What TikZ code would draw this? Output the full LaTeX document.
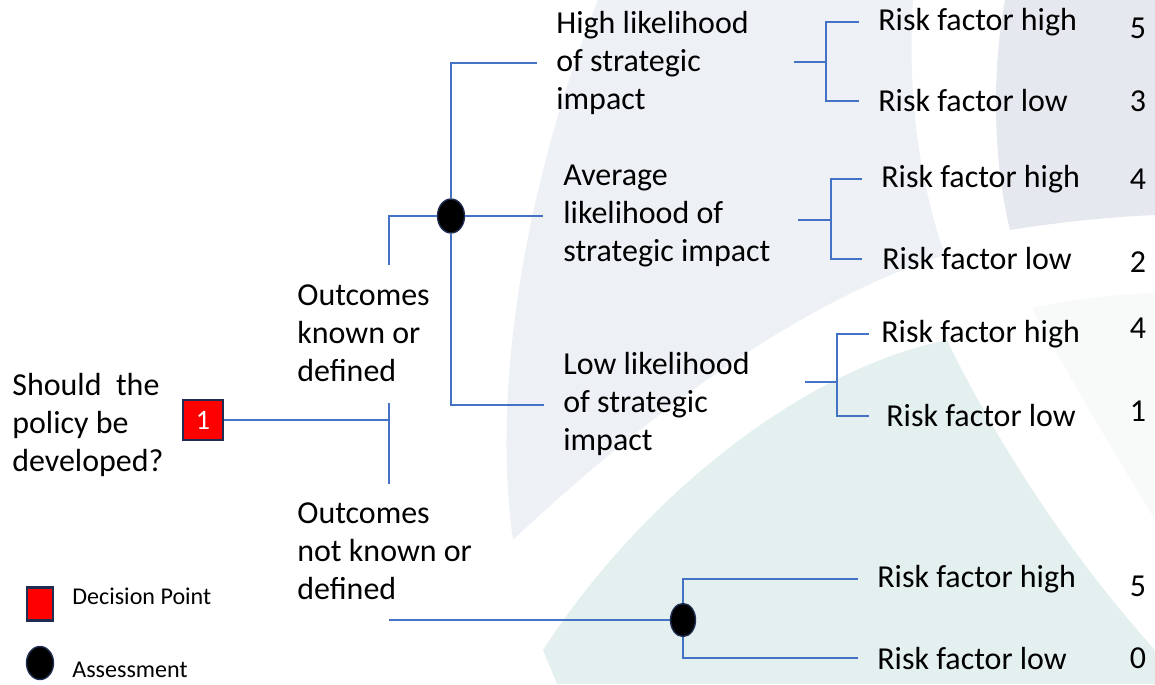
\documentclass[tikz,border=0pt]{standalone}
\usepackage{fontspec}
\setmainfont{Carlito}
\usepackage{tikz}
\usetikzlibrary{shapes.geometric}

\definecolor{treeblue}{RGB}{68,114,196}
\definecolor{boxnavy}{RGB}{31,45,80}
\definecolor{bggrey}{RGB}{237,241,245}
\definecolor{bgslate}{RGB}{229,232,238}
\definecolor{bgteal}{RGB}{227,240,239}
\definecolor{bgmint}{RGB}{247,250,249}

\begin{document}
\begin{tikzpicture}[x=0.02cm, y=-0.02cm,
    branch/.style={draw=treeblue, line width=0.9pt},
    txt/.style={anchor=west, align=left, inner sep=0pt, font=\fontsize{18.2}{21.5}\selectfont},
    keytxt/.style={anchor=west, inner sep=0pt, font=\fontsize{13.7}{15}\selectfont},
    score/.style={inner sep=0pt, font=\fontsize{18.2}{21.5}\selectfont},
    decision/.style={draw=boxnavy, line width=1.3pt, fill=red, text=white, inner sep=0pt,
        minimum width=0.8cm, minimum height=0.8cm, font=\fontsize{16}{18}\selectfont},
    assess/.style={ellipse, draw=boxnavy, line width=0.8pt, fill=black, inner sep=0pt,
        minimum width=0.54cm, minimum height=0.68cm}]
  \useasboundingbox (0,0) rectangle (1155,684);

  % background swooshes
  \fill[bggrey] (598,0) .. controls (530,170) and (490,380) .. (513,540)
     .. controls (640,420) and (800,300) .. (945,255)
     .. controls (915,170) and (908,80) .. (913,0) -- cycle;
  \fill[bgslate] (1005,0) .. controls (990,80) and (995,170) .. (1010,230)
     .. controls (1060,222) and (1110,217) .. (1155,215) -- (1155,0) -- cycle;
  \fill[bgteal] (557,684) -- (543,650) .. controls (640,500) and (800,370) .. (947,340)
     .. controls (985,420) and (1060,545) .. (1155,650) -- (1155,684) -- cycle;
  \fill[bgmint] (1032,308) .. controls (1080,298) and (1120,294) .. (1155,293)
     -- (1155,520) .. controls (1100,430) and (1060,360) .. cycle;

  % decision and first split
  \node[txt] (question) at (12,425) {Should\ \ the\\policy be\\developed?};
  \node[decision] (dec) at (203,420) {1};
  \node[txt] (known) at (297,333) {Outcomes\\known or\\defined};
  \node[txt] (unknown) at (297,551) {Outcomes\\not known or\\defined};

  \coordinate (fork) at (389,420);
  \coordinate (forkup) at (389,403);
  \coordinate (forkdown) at (389,484);
  \draw[branch] (dec) -- (fork);
  \draw[branch] (forkup) -- (forkdown);

  % known outcomes
  \node[assess] (chance1) at (451,216) {};
  \node[txt] (high) at (556,63) {High likelihood\\of strategic\\impact};
  \node[txt] (avg) at (563,216) {Average\\likelihood of\\strategic impact};
  \node[txt] (low) at (563,404) {Low likelihood\\of strategic\\impact};

  \coordinate (knownstub) at (389,265);
  \coordinate (highend) at (537,63);
  \coordinate (avgend) at (543,216);
  \coordinate (lowend) at (544,405);
  \draw[branch] (knownstub) |- (chance1);
  \draw[branch] (chance1) |- (highend);
  \draw[branch] (chance1) -- (avgend);
  \draw[branch] (chance1) |- (lowend);

  \node[txt] (rh1) at (878,22) {Risk factor high};
  \node[txt] (rl1) at (878,101) {Risk factor low};
  \node[txt] (rh2) at (881,179) {Risk factor high};
  \node[txt] (rl2) at (882,259) {Risk factor low};
  \node[txt] (rh3) at (881,334) {Risk factor high};
  \node[txt] (rl3) at (886,416) {Risk factor low};

  \coordinate (stub1) at (794,62);
  \coordinate (fork1) at (826,62);
  \draw[branch] (stub1) -- (fork1);
  \draw[branch] ([xshift=-0.38cm]rh1.west) -| (fork1) |- ([xshift=-0.38cm]rl1.west);

  \coordinate (stub2) at (798,220);
  \coordinate (fork2) at (831,220);
  \draw[branch, line width=1.3pt] (stub2) -- (fork2);
  \draw[branch] ([xshift=-0.38cm]rh2.west) -| (fork2) |- ([xshift=-0.4cm]rl2.west);

  \coordinate (stub3) at (805,382);
  \coordinate (fork3) at (837,382);
  \draw[branch] (stub3) -- (fork3);
  \draw[branch] ([xshift=-0.24cm]rh3.west) -| (fork3) |- ([xshift=-0.34cm]rl3.west);

  % unknown outcomes
  \node[assess, minimum width=0.5cm, minimum height=0.66cm] (chance2) at (683,620) {};
  \node[txt] (rh4) at (877,579) {Risk factor high};
  \node[txt] (rl4) at (877,658) {Risk factor low};

  \coordinate (unknownstub) at (389,620);
  \draw[branch] (unknownstub) -- (chance2);
  \draw[branch] (chance2) |- ([xshift=-0.38cm]rh4.west);
  \draw[branch] (chance2) |- ([xshift=-0.38cm]rl4.west);

  % scores
  \node[score] (s1) at (1138,28) {5};
  \node[score] (s2) at (1138,101) {3};
  \node[score] (s3) at (1138,179) {4};
  \node[score] (s4) at (1138,262) {2};
  \node[score] (s5) at (1138,328) {4};
  \node[score] (s6) at (1138,411) {1};
  \node[score] (s7) at (1138,586) {5};
  \node[score] (s8) at (1138,658) {0};

  % key
  \node[decision, minimum width=0.52cm, minimum height=0.66cm] (keydec) at (40,604) {};
  \node[keytxt] (keydectxt) at (72,596) {Decision Point};
  \node[assess, minimum height=0.66cm] (keyassess) at (40,663) {};
  \node[keytxt] (keyassesstxt) at (72,670) {Assessment};
\end{tikzpicture}
\end{document}
